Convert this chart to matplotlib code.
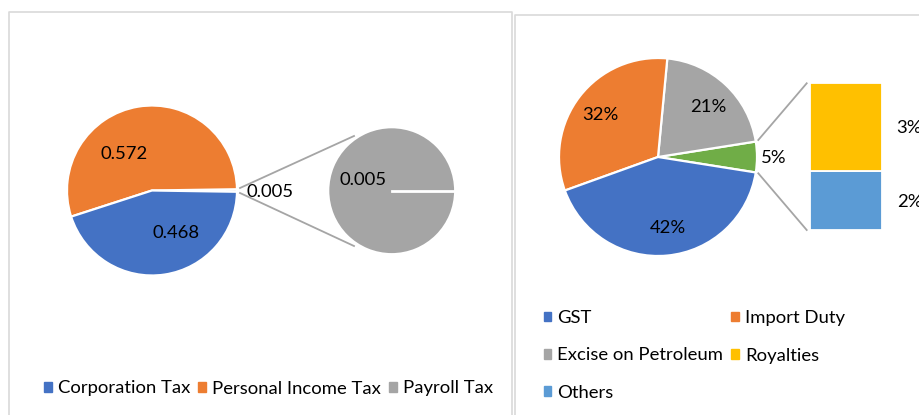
import matplotlib.pyplot as plt
from matplotlib.patches import Patch
import numpy as np

plt.rcParams['font.family'] = ['Lato', 'DejaVu Sans']

# Data: left chart (pie of pie)
left_main_labels = ['Corporation Tax', 'Personal Income Tax']
left_main_values = [0.468, 0.572]
left_sec_labels = ['Payroll Tax']
left_sec_values = [0.005]

# Data: right chart (bar of pie), percent
right_main_labels = ['GST', 'Import Duty', 'Excise on Petroleum']
right_main_values = [42, 32, 21]
right_sec_labels = ['Royalties', 'Others']
right_sec_values = [3, 2]

BLUE, ORANGE, GRAY = '#4472C4', '#ED7D31', '#A5A5A5'
YELLOW, LBLUE, GREEN = '#FFC000', '#5B9BD5', '#70AD47'
W, H = 919, 415
FS = 13.3


def py(y):
    # pixel row (from top) -> data y
    return H - y


fig = plt.figure(figsize=(W / 100, H / 100), dpi=100)
ax = fig.add_axes([0, 0, 1, 1])

wp = dict(edgecolor='white', linewidth=1.6)

# ---- left panel ----
other_left = sum(left_sec_values)
vals = [other_left, left_main_values[1], left_main_values[0]]
half = other_left / sum(vals) * 360 / 2
ax.pie(vals, colors=[GRAY, ORANGE, BLUE], startangle=-half,
       center=(152, py(190.5)), radius=85, wedgeprops=wp)

sec_c, sec_r = (391.7, py(190.7)), 63.5
ax.pie(left_sec_values, colors=[GRAY], startangle=0,
       center=sec_c, radius=sec_r, wedgeprops=wp)
# slice border of the single wedge (start at 0 degrees)
ax.plot([sec_c[0], sec_c[0] + sec_r], [sec_c[1], sec_c[1]], color='white', lw=2)

ax.plot([240, 354], [py(188), py(136)], color=GRAY, lw=1.3)
ax.plot([240, 354], [py(193), py(246)], color=GRAY, lw=1.3)

ax.text(124, py(154), f'{left_main_values[1]:.3f}', fontsize=FS, ha='center', va='center')
ax.text(175.7, py(232.7), f'{left_main_values[0]:.3f}', fontsize=FS, ha='center', va='center')
ax.text(270, py(191.7), f'{other_left:.3f}', fontsize=FS, ha='center', va='center')
ax.text(362.7, py(180), f'{left_sec_values[0]:.3f}', fontsize=FS, ha='center', va='center')

# ---- right panel ----
other_right = sum(right_sec_values)
rvals = [other_right, right_main_values[2], right_main_values[1], right_main_values[0]]
rhalf = other_right / sum(rvals) * 360 / 2
ax.pie(rvals, colors=[GREEN, GRAY, ORANGE, BLUE], startangle=-rhalf,
       center=(658, py(157)), radius=99, wedgeprops=wp)

ax.plot([758.3, 806.7], [py(140), py(83.3)], color=GRAY, lw=1.3)
ax.plot([758.3, 806.7], [py(173.3), py(230)], color=GRAY, lw=1.3)

ax.text(600, py(115), f'{right_main_values[1]}%', fontsize=FS, ha='center', va='center')
ax.text(708.3, py(106.7), f'{right_main_values[2]}%', fontsize=FS, ha='center', va='center')
ax.text(668, py(228.3), f'{right_main_values[0]}%', fontsize=FS, ha='center', va='center')
ax.text(774, py(158.3), f'{other_right}%', fontsize=FS, ha='center', va='center')
ax.text(896.7, py(127.7), f'{right_sec_values[0]}%', fontsize=FS, ha='left', va='center')
ax.text(896.7, py(202.3), f'{right_sec_values[1]}%', fontsize=FS, ha='left', va='center')

# panel borders
ax.plot([9, 9, 512, 512], [0, py(12), py(12), 0], color='#D9D9D9', lw=1.2)
ax.plot([515, 515, W + 5], [0, py(15), py(15)], color='#D9D9D9', lw=1.2)

ax.set_xlim(0, W)
ax.set_ylim(0, H)
ax.set_aspect('equal')
ax.axis('off')

# stacked bar of the secondary chart
bax = fig.add_axes([810 / W, py(230) / H, 71.7 / W, 146.7 / H])
bottom = 0
for v, c in zip(right_sec_values[::-1], [LBLUE, YELLOW]):
    bax.bar(0, v, bottom=bottom, width=1, color=c, edgecolor='white', linewidth=1.3)
    bottom += v
bax.set_xlim(-0.5, 0.5)
bax.set_ylim(0, sum(right_sec_values))
bax.axis('off')

# legends
leg_kw = dict(frameon=False, fontsize=FS, handlelength=0.41, handleheight=0.41,
              handletextpad=0.33, borderpad=0, borderaxespad=0, columnspacing=0.45)
lh = [Patch(color=BLUE), Patch(color=ORANGE), Patch(color=GRAY)]
ax.legend(lh, left_main_labels + left_sec_labels, ncol=3, loc='center left',
          bbox_to_anchor=(44, py(388.5)), bbox_transform=ax.transData, **leg_kw)

rh = [Patch(color=BLUE), Patch(color=GRAY), Patch(color=LBLUE),
      Patch(color=ORANGE), Patch(color=YELLOW)]
rl = [right_main_labels[0], right_main_labels[2], right_sec_labels[1],
      right_main_labels[1], right_sec_labels[0]]
fig.legend(rh, rl, ncol=2, loc='center left', labelspacing=1.15,
           bbox_to_anchor=(543.5, py(355.5)), bbox_transform=ax.transData, **leg_kw)

fig.savefig('out.png', dpi=100)
